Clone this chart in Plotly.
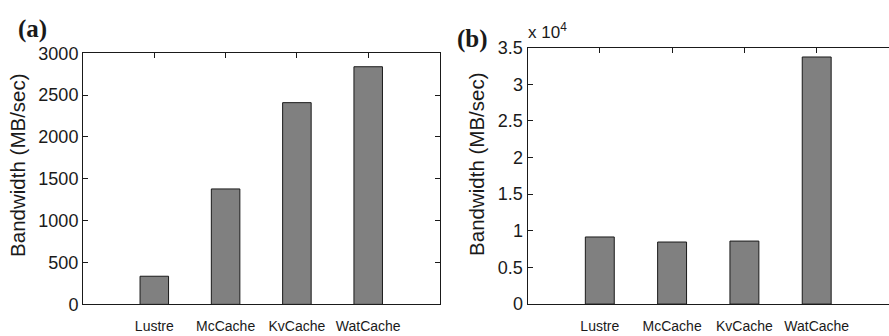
import plotly.graph_objects as go

# Bandwidth of each caching scheme, two workloads
systems = ["Lustre", "McCache", "KvCache", "WatCache"]
bw_a = [336, 1379, 2410, 2839]          # MB/sec
bw_b = [9160, 8470, 8600, 33720]        # MB/sec

W, H = 889, 336
FONT = "Liberation Sans, Arial, sans-serif"
INK = "#1a1a1a"
BAR = "#808080"


def px_x(p):
    return p / W


def px_y(p):
    return (H - p) / H


fig = go.Figure()
fig.add_trace(go.Bar(x=systems, y=bw_a, xaxis="x", yaxis="y", width=0.4,
                     marker=dict(color=BAR, line=dict(color=INK, width=1))))
fig.add_trace(go.Bar(x=systems, y=bw_b, xaxis="x2", yaxis="y2", width=0.4,
                     marker=dict(color=BAR, line=dict(color=INK, width=1))))

common_x = dict(type="category", range=[-1, 4], showgrid=False, zeroline=False,
                showline=True, linecolor=INK, linewidth=1, mirror="ticks",
                ticks="inside", ticklen=5, tickcolor=INK, layer="below traces",
                ticklabelstandoff=9,
                tickfont=dict(family=FONT, size=14, color=INK))
common_y = dict(showgrid=False, zeroline=False, showline=True, linecolor=INK,
                linewidth=1, ticks="inside", ticklen=5, tickcolor=INK,
                tickfont=dict(family=FONT, size=18, color=INK))

TICKS_B = [0, 5000, 10000, 15000, 20000, 25000, 30000, 35000]

fig.update_layout(
    width=W, height=H, margin=dict(l=0, r=0, t=0, b=0),
    paper_bgcolor="white", plot_bgcolor="white", showlegend=False,
    xaxis=dict(common_x, domain=[px_x(83), px_x(439.5)], anchor="y"),
    yaxis=dict(common_y, domain=[px_y(313), px_y(46)], anchor="x",
               range=[0, 3000], tickvals=[0, 500, 1000, 1500, 2000, 2500, 3000],
               mirror="ticks"),
    xaxis2=dict(common_x, domain=[px_x(527.5), 1.0], anchor="y2"),
    yaxis2=dict(common_y, domain=[px_y(312.7), px_y(40)], anchor="x2",
                range=[0, 35000], tickvals=TICKS_B,
                ticktext=["0", "0.5", "1", "1.5", "2", "2.5", "3", "3.5"]),
    # right-hand ticks of panel (b), drawn without a border line
    yaxis3=dict(overlaying="y2", side="right", anchor="x2", range=[0, 35000],
                showgrid=False, zeroline=False, showline=False,
                ticks="inside", ticklen=5, tickcolor=INK, showticklabels=False,
                tickvals=TICKS_B),
)

annotations = [
    dict(text="Bandwidth (MB/sec)", x=px_x(16.7), y=px_y(165), textangle=-90,
         font=dict(family=FONT, size=20.5, color=INK)),
    dict(text="Bandwidth (MB/sec)", x=px_x(476.7), y=px_y(164), textangle=-90,
         font=dict(family=FONT, size=20.5, color=INK)),
    dict(text="<b>(a)</b>", x=px_x(32), y=px_y(20.5),
         font=dict(family="Liberation Serif, Times New Roman, serif", size=25, color=INK)),
    dict(text="<b>(b)</b>", x=px_x(472.5), y=px_y(31),
         font=dict(family="Liberation Serif, Times New Roman, serif", size=25, color=INK)),
    dict(text="x 10<sup>4</sup>", x=px_x(526), y=px_y(36), xanchor="left",
         yanchor="bottom", font=dict(family=FONT, size=17, color=INK)),
]
for a in annotations:
    a.setdefault("xanchor", "center")
    a.setdefault("yanchor", "middle")
    fig.add_annotation(xref="paper", yref="paper", showarrow=False, **a)

fig.write_html("out.html")
